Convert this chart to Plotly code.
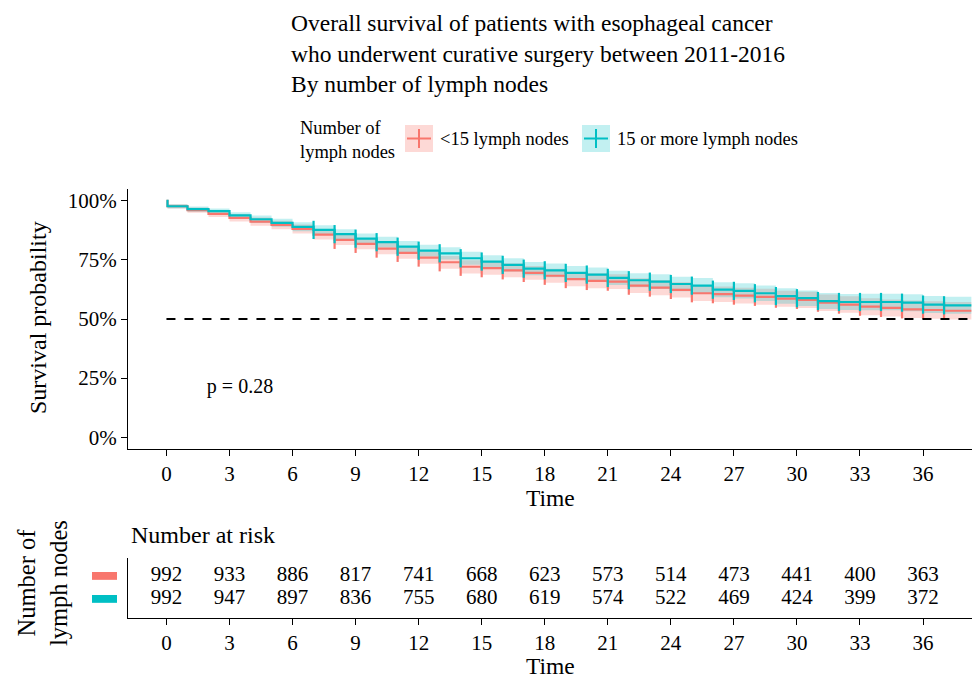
import plotly.graph_objects as go

W, H = 972, 680
OFF = 0

# ---------------- data ----------------
times = [0, 0.05] + list(range(1, 38))
t_end = 38.3
surv_lt15 = [1.0, 0.977, 0.961, 0.945, 0.928, 0.912, 0.898, 0.881, 0.857, 0.835, 0.818,
             0.798, 0.780, 0.760, 0.740, 0.721, 0.715, 0.706, 0.695, 0.683, 0.669,
             0.661, 0.658, 0.641, 0.633, 0.623, 0.609, 0.605, 0.599, 0.594, 0.586,
             0.581, 0.569, 0.561, 0.552, 0.547, 0.541, 0.538, 0.535]
surv_ge15 = [1.0, 0.977, 0.965, 0.956, 0.938, 0.922, 0.907, 0.890, 0.877, 0.859, 0.840,
             0.825, 0.806, 0.789, 0.778, 0.757, 0.743, 0.729, 0.713, 0.706, 0.695,
             0.688, 0.674, 0.664, 0.658, 0.648, 0.641, 0.624, 0.619, 0.609, 0.597,
             0.588, 0.576, 0.572, 0.572, 0.572, 0.569, 0.561, 0.558]
ci_lt15 = [0.0, 0.009, 0.011, 0.013, 0.015, 0.017, 0.018, 0.019, 0.021, 0.022, 0.023,
           0.024, 0.025, 0.026, 0.027, 0.028, 0.028, 0.029, 0.029, 0.030, 0.030,
           0.031, 0.031, 0.031, 0.032, 0.032, 0.033, 0.033, 0.033, 0.034, 0.034,
           0.034, 0.035, 0.035, 0.036, 0.036, 0.037, 0.037, 0.037]
ci_ge15 = [0.0, 0.009, 0.011, 0.012, 0.014, 0.016, 0.017, 0.019, 0.020, 0.021, 0.022,
           0.023, 0.024, 0.025, 0.026, 0.027, 0.027, 0.028, 0.028, 0.029, 0.029,
           0.030, 0.030, 0.030, 0.031, 0.031, 0.032, 0.032, 0.032, 0.033, 0.033,
           0.033, 0.034, 0.034, 0.035, 0.035, 0.036, 0.036, 0.036]
censor_lt15 = list(range(8, 38))
censor_ge15 = list(range(7, 38))

risk_times = [0, 3, 6, 9, 12, 15, 18, 21, 24, 27, 30, 33, 36]
risk_lt15 = [992, 933, 886, 817, 741, 668, 623, 573, 514, 473, 441, 400, 363]
risk_ge15 = [992, 947, 897, 836, 755, 680, 619, 574, 522, 469, 424, 399, 372]
pvalue_text = "p = 0.28"
p_pos = (3.5, 0.21)

groups = ["<15 lymph nodes", "15 or more lymph nodes"]
colors = ["#F8766D", "#00BFC4"]
fills = ["rgba(248,118,109,0.28)", "rgba(0,191,196,0.24)"]

FONT = "Liberation Serif"
fig = go.Figure()

series = [(surv_lt15, ci_lt15, censor_lt15), (surv_ge15, ci_ge15, censor_ge15)]
for (s, ci, cen), col, fc, name in zip(series, colors, fills, groups):
    xs = times + [t_end]
    ss = s + [s[-1]]
    cc = ci + [ci[-1]]
    lo = [max(0, a - b) for a, b in zip(ss, cc)]
    hi = [min(1, a + b) for a, b in zip(ss, cc)]
    fig.add_trace(go.Scatter(x=xs, y=lo, mode="lines", line=dict(width=0, shape="hv"),
                             hoverinfo="skip", showlegend=False))
    fig.add_trace(go.Scatter(x=xs, y=hi, mode="lines", line=dict(width=0, shape="hv"),
                             fill="tonexty", fillcolor=fc, hoverinfo="skip", showlegend=False))

for (s, ci, cen), col, name in zip(series, colors, groups):
    xs = times + [t_end]
    ss = s + [s[-1]]
    fig.add_trace(go.Scatter(x=xs, y=ss, mode="lines", name=name,
                             line=dict(color=col, width=2.2, shape="hv"), showlegend=False))
    cy = [s[times.index(t)] for t in cen]
    fig.add_trace(go.Scatter(x=cen, y=cy, mode="markers", showlegend=False,
                             marker=dict(symbol="line-ns", size=13, line=dict(color=col, width=2.2))))

# median reference line
fig.add_trace(go.Scatter(x=[0, t_end], y=[0.5, 0.5], mode="lines", showlegend=False,
                         line=dict(color="black", width=1.8, dash="dash")))

# p-value
fig.add_trace(go.Scatter(x=[p_pos[0]], y=[p_pos[1]], mode="text", text=[pvalue_text],
                         textfont=dict(family=FONT, size=20, color="black"), showlegend=False))

# risk table
fig.add_trace(go.Scatter(x=risk_times, y=[1] * len(risk_times), mode="text",
                         text=[str(v) for v in risk_lt15], xaxis="x2", yaxis="y2",
                         textfont=dict(family=FONT, size=21, color="black"), showlegend=False))
fig.add_trace(go.Scatter(x=risk_times, y=[0] * len(risk_times), mode="text",
                         text=[str(v) for v in risk_ge15], xaxis="x2", yaxis="y2",
                         textfont=dict(family=FONT, size=21, color="black"), showlegend=False))

def px(x):
    return (x - OFF) / W

def py(y):
    return 1 - (y - OFF) / H

xdom = [px(128), 1.0]
axis_common = dict(showline=True, linecolor="black", linewidth=1.3, ticks="outside",
                   tickcolor="black", ticklen=6, tickwidth=1.3, showgrid=False, zeroline=False,
                   tickfont=dict(family=FONT, size=21, color="black"))

fig.update_layout(
    width=W, height=H, margin=dict(l=0, r=0, t=0, b=0),
    paper_bgcolor="white", plot_bgcolor="white", showlegend=False,
    xaxis=dict(domain=xdom, range=[-1.83, 38.33], tickvals=risk_times, anchor="y", **axis_common),
    yaxis=dict(domain=[py(449), py(189)], range=[-0.05, 1.05], tickvals=[0, 0.25, 0.5, 0.75, 1],
               ticktext=["0%", "25%", "50%", "75%", "100%"], anchor="x", **axis_common),
    xaxis2=dict(domain=xdom, range=[-1.83, 38.33], tickvals=risk_times, anchor="y2", **axis_common),
    yaxis2=dict(domain=[py(618), py(558)], range=[-0.83, 1.78], showticklabels=False,
                anchor="x2", showline=True, linecolor="black", linewidth=1.3, ticks="",
                showgrid=False, zeroline=False),
)

ann = []
def A(text, x, y, size, xanchor="center", yanchor="middle", angle=0, align="left"):
    ann.append(dict(text=text, x=px(x), y=py(y), xref="paper", yref="paper", showarrow=False,
                    xanchor=xanchor, yanchor=yanchor, textangle=angle, align=align,
                    font=dict(family=FONT, size=size, color="black")))

A("Overall survival of patients with esophageal cancer<br>who underwent curative surgery between 2011-2016<br>By number of lymph nodes",
  289, 8, 23.5, xanchor="left", yanchor="top")
A("Number of<br>lymph nodes", 298, 140, 18.5, xanchor="left")
A(groups[0], 438, 139, 18.5, xanchor="left")
A(groups[1], 615, 139, 18.5, xanchor="left")
A("Survival probability", 38, 318, 24, angle=-90)
A("Time", 550, 498, 23.5)
A("Number at risk", 129, 535, 24, xanchor="left")
A("Time", 550, 666, 23.5)
A("Number of<br>lymph nodes", 42, 583, 24.5, angle=-90, align="center")
fig.update_layout(annotations=ann)

shapes = []
for (x0, x1), fc, col in zip([(405, 433), (582, 610)], fills, colors):
    shapes.append(dict(type="rect", xref="paper", yref="paper", x0=px(x0), x1=px(x1),
                       y0=py(152), y1=py(125), fillcolor=fc, line=dict(width=0)))
    shapes.append(dict(type="line", xref="paper", yref="paper", x0=px(x0 + 2), x1=px(x1 - 2),
                       y0=py(138.5), y1=py(138.5), line=dict(color=col, width=2)))
    xm = (x0 + x1) / 2
    shapes.append(dict(type="line", xref="paper", yref="paper", x0=px(xm), x1=px(xm),
                       y0=py(148), y1=py(129), line=dict(color=col, width=2)))
for yv, col in zip([1, 0], colors):
    shapes.append(dict(type="rect", xref="paper", yref="y2", x0=px(92), x1=px(117),
                       y0=yv - 0.17, y1=yv + 0.17, fillcolor=col, line=dict(width=0)))
fig.update_layout(shapes=shapes)

fig.write_html("out.html", config={"displayModeBar": False},
               post_script="document.body.style.margin='0';document.body.style.overflow='hidden';")
